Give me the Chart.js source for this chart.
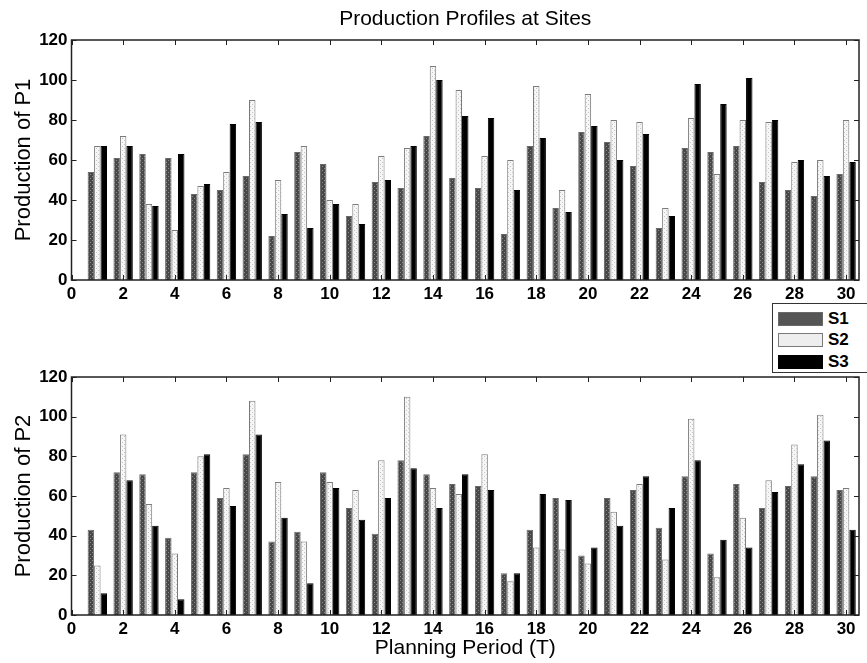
<!DOCTYPE html>
<html>
<head>
<meta charset="utf-8">
<title>Production Profiles at Sites</title>
<script src="https://cdn.jsdelivr.net/npm/chart.js@4.4.1/dist/chart.umd.min.js"></script>
<style>
    html, body { margin: 0; padding: 0; background: #fff; }
    #page {
        position: relative;
        width: 867px;
        height: 663px;
        overflow: hidden;
        font-family: 'Liberation Sans', Arial, sans-serif;
    }
    .panel { position: absolute; left: 0; width: 867px; }
    #topPanel { top: 0; height: 305px; }
    #bottomPanel { top: 300px; height: 363px; }
    #legend {
        position: absolute;
        left: 772px;
        top: 303px;
        width: 96px;
        height: 70px;
        box-sizing: border-box;
        border: 1px solid #333;
        background: #fff;
        padding: 4px 0 0 5px;
        z-index: 2;
    }
    .legend-row { display: flex; align-items: center; height: 21.5px; }
    .legend-swatch { width: 45px; height: 14px; box-sizing: border-box; margin-right: 5px; }
    .legend-label { font-weight: bold; font-size: 17px; color: #000; }
</style>
</head>
<body>
<div id="page">
    <div class="panel" id="topPanel"><canvas id="chartP1"></canvas></div>
    <div class="panel" id="bottomPanel"><canvas id="chartP2"></canvas></div>
    <div id="legend"></div>
</div>
<script>
// Planning periods and axis tick values
const periods = [1, 2, 3, 4, 5, 6, 7, 8, 9, 10, 11, 12, 13, 14, 15,
                 16, 17, 18, 19, 20, 21, 22, 23, 24, 25, 26, 27, 28, 29, 30];
const xTicks = [0, 2, 4, 6, 8, 10, 12, 14, 16, 18, 20, 22, 24, 26, 28, 30];
const yTicks = [0, 20, 40, 60, 80, 100, 120];
const siteNames = ['S1', 'S2', 'S3'];

// Production of P1 at each site
const p1S1 = [54, 61, 63, 61, 43, 45, 52, 22, 64, 58, 32, 49, 46, 72, 51,
              46, 23, 67, 36, 74, 69, 57, 26, 66, 64, 67, 49, 45, 42, 53];
const p1S2 = [67, 72, 38, 25, 47, 54, 90, 50, 67, 40, 38, 62, 66, 107, 95,
              62, 60, 97, 45, 93, 80, 79, 36, 81, 53, 80, 79, 59, 60, 80];
const p1S3 = [67, 67, 37, 63, 48, 78, 79, 33, 26, 38, 28, 50, 67, 100, 82,
              81, 45, 71, 34, 77, 60, 73, 32, 98, 88, 101, 80, 60, 52, 59];

// Production of P2 at each site
const p2S1 = [43, 72, 71, 39, 72, 59, 81, 37, 42, 72, 54, 41, 78, 71, 66,
              65, 21, 43, 59, 30, 59, 63, 44, 70, 31, 66, 54, 65, 70, 63];
const p2S2 = [25, 91, 56, 31, 80, 64, 108, 67, 37, 67, 63, 78, 110, 64, 61,
              81, 17, 34, 33, 26, 52, 66, 28, 99, 19, 49, 68, 86, 101, 64];
const p2S3 = [11, 68, 45, 8, 81, 55, 91, 49, 16, 64, 48, 59, 74, 54, 71,
              63, 21, 61, 58, 34, 45, 70, 54, 78, 38, 34, 62, 76, 88, 43];

const fontFamily = "'Liberation Sans', Arial, sans-serif";

/**
 * Small dotted fill so the bars look like printed halftone
 */
function stipple(base, dot) {
    const c = document.createElement('canvas');
    c.width = 4;
    c.height = 4;
    const g = c.getContext('2d');
    g.fillStyle = base;
    g.fillRect(0, 0, 4, 4);
    g.fillStyle = dot;
    g.fillRect(0, 0, 1, 1);
    g.fillRect(2, 2, 1, 1);
    return g.createPattern(c, 'repeat');
}

const siteStyles = [
    { fill: stipple('#484848', '#8c8c8c'), swatch: '#555', border: '#6a6a6a' },
    { fill: stipple('#f6f6f6', '#c4c4c4'), swatch: '#eee', border: '#7a7a7a' },
    { fill: '#000', swatch: '#000', border: '#000' }
];

// Inward tick marks on all four sides plus the axes box
const axesBox = {
    id: 'axesBox',
    afterDatasetsDraw(chart) {
        const { ctx, chartArea: a, scales: { x, y } } = chart;
        ctx.save();
        ctx.strokeStyle = '#222';
        ctx.lineWidth = 1;
        ctx.beginPath();
        xTicks.forEach(v => {
            const px = Math.round(x.getPixelForValue(v)) + 0.5;
            ctx.moveTo(px, a.bottom);
            ctx.lineTo(px, a.bottom - 5);
            ctx.moveTo(px, a.top);
            ctx.lineTo(px, a.top + 5);
        });
        yTicks.forEach(v => {
            const py = Math.round(y.getPixelForValue(v)) + 0.5;
            ctx.moveTo(a.left, py);
            ctx.lineTo(a.left + 5, py);
            ctx.moveTo(a.right, py);
            ctx.lineTo(a.right - 5, py);
        });
        ctx.stroke();
        ctx.lineWidth = 1.5;
        ctx.strokeRect(a.left, a.top, a.width, a.height);
        ctx.restore();
    }
};

function makeDataset(index, values) {
    const style = siteStyles[index];
    return {
        label: siteNames[index],
        data: periods.map((t, i) => ({ x: t, y: values[i] })),
        backgroundColor: style.fill,
        borderColor: style.border,
        borderWidth: 1,
        categoryPercentage: 0.75,
        barPercentage: 1.0
    };
}

/**
 * Grouped bar chart of one product over the planning periods
 */
function createProductionChart(chartId, yLabel, series, layout) {
    const chartCanvas = document.getElementById(chartId);
    if (!chartCanvas) return null;

    return new Chart(chartCanvas, {
        type: 'bar',
        data: {
            datasets: series.map((values, i) => makeDataset(i, values))
        },
        options: {
            responsive: true,
            maintainAspectRatio: false,
            animation: false,
            layout: { padding: layout.padding },
            plugins: {
                legend: { display: false },
                tooltip: { enabled: false },
                title: layout.title
            },
            scales: {
                x: {
                    type: 'linear',
                    min: 0,
                    max: 30.5,
                    offset: false,
                    grid: { display: false, drawTicks: false },
                    border: { display: false },
                    afterBuildTicks: s => { s.ticks = xTicks.map(v => ({ value: v })); },
                    afterFit: s => { s.height = layout.xAxisHeight; },
                    ticks: {
                        autoSkip: false,
                        maxRotation: 0,
                        padding: 4,
                        color: '#000',
                        font: { family: fontFamily, size: 17, weight: 'bold' }
                    },
                    title: layout.xTitle
                },
                y: {
                    min: 0,
                    max: 120,
                    grid: { display: false, drawTicks: false },
                    border: { display: false },
                    afterBuildTicks: s => { s.ticks = yTicks.map(v => ({ value: v })); },
                    afterFit: s => { s.width = 71.5; },
                    ticks: {
                        padding: 4,
                        color: '#000',
                        font: { family: fontFamily, size: 17, weight: 'bold' }
                    },
                    title: {
                        display: true,
                        text: yLabel,
                        color: '#000',
                        padding: { top: 11 },
                        font: { family: fontFamily, size: 22 }
                    }
                }
            }
        },
        plugins: [axesBox]
    });
}

createProductionChart('chartP1', 'Production of P1', [p1S1, p1S2, p1S3], {
    padding: { top: 0, right: 8, left: 0, bottom: 0 },
    xAxisHeight: 25,
    title: {
        display: true,
        fullSize: false,
        text: 'Production Profiles at Sites',
        color: '#000',
        padding: { top: 7, bottom: 7.8 },
        font: { family: fontFamily, size: 21, weight: 'normal' }
    },
    xTitle: { display: false }
});

createProductionChart('chartP2', 'Production of P2', [p2S1, p2S2, p2S3], {
    padding: { top: 77, right: 8, left: 0, bottom: 0 },
    xAxisHeight: 48,
    title: { display: false },
    xTitle: {
        display: true,
        text: 'Planning Period (T)',
        color: '#000',
        padding: { bottom: 2.4 },
        font: { family: fontFamily, size: 21 }
    }
});

// Legend box shared by both panels
const legendBox = document.getElementById('legend');
siteNames.forEach((name, i) => {
    const row = document.createElement('div');
    row.className = 'legend-row';
    const sw = document.createElement('div');
    sw.className = 'legend-swatch';
    sw.style.background = siteStyles[i].swatch;
    sw.style.border = '1px solid ' + siteStyles[i].border;
    const label = document.createElement('span');
    label.className = 'legend-label';
    label.textContent = name;
    row.appendChild(sw);
    row.appendChild(label);
    legendBox.appendChild(row);
});
</script>
</body>
</html>
